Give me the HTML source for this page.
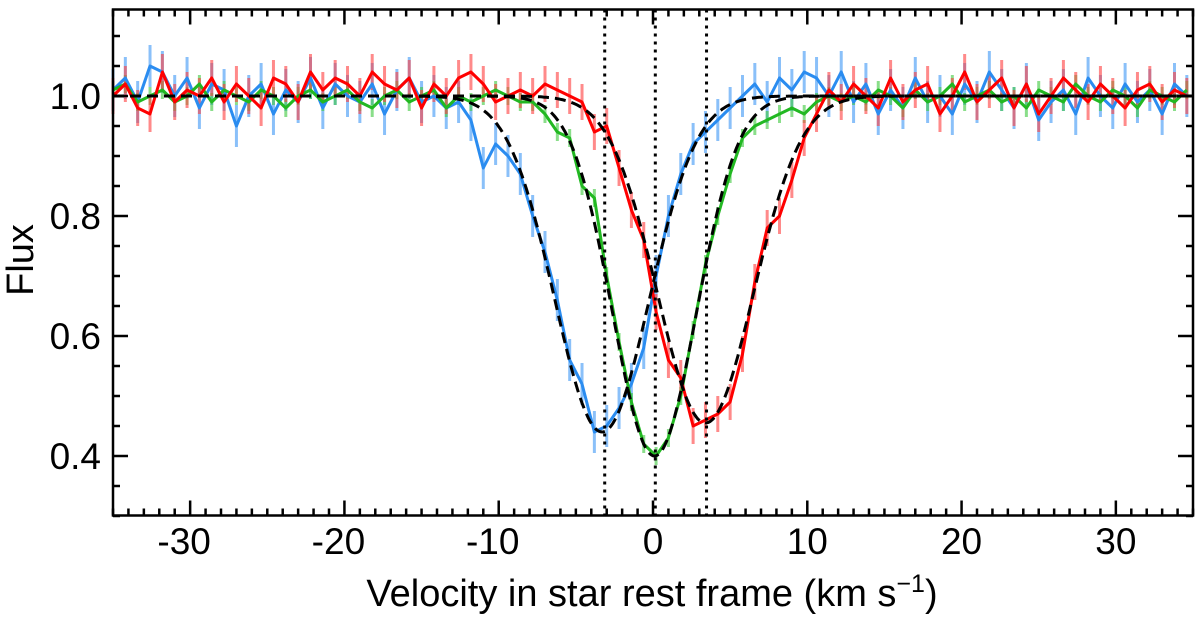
<!DOCTYPE html>
<html><head><meta charset="utf-8"><style>
html,body{margin:0;padding:0;background:#fff;}
svg{display:block;font-family:"Liberation Sans",Arial,sans-serif;}
</style></head><body>
<svg id="chart" width="1200" height="619" viewBox="0 0 1200 619" xmlns="http://www.w3.org/2000/svg">
<g id="errs"></g>
<g id="lines"></g>
<g id="models"></g>
<g id="vlines"></g>
<g id="axes"></g>
<text x="652" y="606" font-size="38" text-anchor="middle">Velocity in star rest frame (km s<tspan dy="-14" font-size="25">−1</tspan><tspan dy="14">)</tspan></text>
<text x="0" y="0" font-size="38" text-anchor="middle" transform="translate(33,260) rotate(-90)">Flux</text>
</svg>
<script>
const vStart = -35, vStep = 0.8;
const blueFlux = [1.01,1.03,0.99,1.05,1.04,1.00,1.03,0.98,1.02,1.01,0.95,1.00,1.02,0.97,1.01,0.99,1.03,0.98,1.02,1.00,0.99,1.02,0.97,1.01,1.03,0.99,1.00,0.98,
0.99,0.96,0.88,0.92,0.90,0.87,0.80,0.74,0.66,0.56,0.52,0.44,0.45,0.48,0.52,0.58,0.70,0.80,0.87,0.92,0.94,0.96,0.98,1.00,1.02,0.99,1.03,1.01,1.04,1.03,1.00,1.04,
0.99,1.02,0.97,1.01,0.98,1.03,0.99,1.00,0.97,1.02,0.99,1.04,1.01,0.98,1.02,0.96,0.99,1.01,0.97,1.03,1.00,0.98,1.02,0.99,1.01,0.97,1.02,1.00];
const greenFlux = [1.01,1.02,0.99,1.00,1.01,0.99,1.00,1.02,0.99,1.01,1.00,0.99,1.01,1.00,0.98,1.00,1.01,0.99,1.00,1.01,0.99,0.98,1.00,1.01,0.99,1.00,1.01,0.98,1.00,0.99,1.00,1.01,1.00,0.99,
0.99,0.97,0.94,0.93,0.85,0.83,0.70,0.59,0.49,0.42,0.40,0.43,0.50,0.61,0.72,0.80,0.87,0.93,0.95,0.96,0.97,0.98,0.97,0.99,1.00,0.99,
1.00,0.99,1.01,1.00,0.98,1.01,0.99,1.00,1.02,0.99,1.00,1.01,0.99,1.00,0.98,1.01,1.00,0.99,1.02,1.00,0.99,1.01,1.00,0.98,1.01,1.00,0.99,1.01];
const redFlux = [1.00,1.02,0.98,0.97,1.04,0.99,1.01,1.00,1.03,0.99,1.02,1.00,0.98,1.03,1.02,0.99,1.04,1.01,1.03,1.02,1.00,1.04,1.02,1.01,1.03,0.98,1.02,1.00,1.03,1.04,
1.02,0.99,1.00,1.01,1.00,1.02,1.01,1.00,0.99,0.94,0.95,0.88,0.81,0.76,0.64,0.56,0.53,0.45,0.46,0.47,0.49,0.57,0.69,0.78,0.80,0.86,0.93,0.97,1.01,0.99,
1.02,1.00,0.98,1.03,0.99,1.01,1.02,0.97,1.00,1.04,0.99,1.01,1.03,0.98,1.02,0.97,1.00,1.03,1.01,0.99,1.02,1.00,0.98,1.01,1.02,0.99,1.01,1.00];
const errSizes = [0.035, 0.015, 0.03]; // blue, green, red
const fitCenters = [-3.3, 0.1, 3.4];
const fitDepths = [0.56, 0.60, 0.545];
const fitSigmas = [3.06, 2.7, 3.1];
const markerVel = [-3.13, 0.15, 3.47];
const xTickVals = [-30,-20,-10,0,10,20,30];
const yTickVals = [0.4,0.6,0.8,1.0];
const yTickLabels = ["0.4","0.6","0.8","1.0"];

const NS = "http://www.w3.org/2000/svg";
const L = 113, R = 1193, T = 9.5, B = 515.5;
const xScale = v => L + (v + 35) * (R - L) / 70;
const yScale = f => 96 + (1 - f) * 600;
function mk(tag, attrs, parent) {
  const e = document.createElementNS(NS, tag);
  for (const k in attrs) e.setAttribute(k, attrs[k]);
  parent.appendChild(e);
  return e;
}
const colors = ["#2a8cf0", "#22b822", "#ff0000"];
const errColors = ["rgba(60,150,245,0.6)", "rgba(60,200,60,0.6)", "rgba(255,60,60,0.6)"];
const series = [blueFlux, greenFlux, redFlux];
const names = ["blue", "green", "red"];
const errs = document.getElementById('errs'), lines = document.getElementById('lines');
series.forEach((arr, s) => {
  let d = "";
  arr.forEach((f, i) => {
    const v = vStart + i * vStep, x = xScale(v);
    const eb = mk('line', {x1: x, x2: x, y1: yScale(f + errSizes[s]), y2: yScale(f - errSizes[s]), stroke: errColors[s], 'stroke-width': 3}, errs);
    
    
    d += (i ? "L" : "M") + x.toFixed(1) + "," + yScale(f).toFixed(1);
  });
  const p = mk('path', {d: d, fill: 'none', stroke: colors[s], 'stroke-width': 3, 'stroke-linejoin': 'round'}, lines);
  
  
});
const models = document.getElementById('models');
fitCenters.forEach((c, s) => {
  let d = "";
  for (let k = 0; k <= 700; k++) {
    const v = -35 + k * 0.1;
    const f = 1 - fitDepths[s] * Math.exp(-((v - c) ** 2) / (2 * fitSigmas[s] ** 2));
    d += (k ? "L" : "M") + xScale(v).toFixed(1) + "," + yScale(f).toFixed(1);
  }
  const p = mk('path', {d: d, fill: 'none', stroke: '#000', 'stroke-width': 3, 'stroke-dasharray': '11 6'}, models);
  
  
});
const vl = document.getElementById('vlines');
markerVel.forEach(v => {
  const l = mk('line', {x1: xScale(v), x2: xScale(v), y1: T, y2: B, stroke: '#000', 'stroke-width': 3, 'stroke-dasharray': '3 5'}, vl);
  
  
});
const ax = document.getElementById('axes');
const frame = mk('rect', {x: L, y: T, width: R - L, height: B - T, fill: 'none', stroke: '#000', 'stroke-width': 2.5}, ax);


for (let v = -35; v <= 35; v++) {
  const x = xScale(v), len = v % 10 === 0 ? 15 : 7;
  mk('line', {x1: x, x2: x, y1: B, y2: B - len, stroke: '#000', 'stroke-width': 2.5}, ax);
  mk('line', {x1: x, x2: x, y1: T, y2: T + len, stroke: '#000', 'stroke-width': 2.5}, ax);
}
for (let k = 6; k <= 22; k++) {
  const f = k * 0.05, y = yScale(f), major = k % 4 === 0;
  const len = major ? 15 : 7;
  mk('line', {x1: L, x2: L + len, y1: y, y2: y, stroke: '#000', 'stroke-width': 2.5}, ax);
  mk('line', {x1: R, x2: R - len, y1: y, y2: y, stroke: '#000', 'stroke-width': 2.5}, ax);
}
xTickVals.forEach(v => {
  const t = mk('text', {x: xScale(v) - (v < 0 ? 6 : 0), y: 554, 'font-size': 37, 'text-anchor': 'middle'}, ax);
  t.textContent = v;
  
  
});
yTickVals.forEach((f, i) => {
  const t = mk('text', {x: 101, y: yScale(f) + 13, 'font-size': 37, 'text-anchor': 'end'}, ax);
  t.textContent = yTickLabels[i];
  
  
});
</script>
</body></html>
